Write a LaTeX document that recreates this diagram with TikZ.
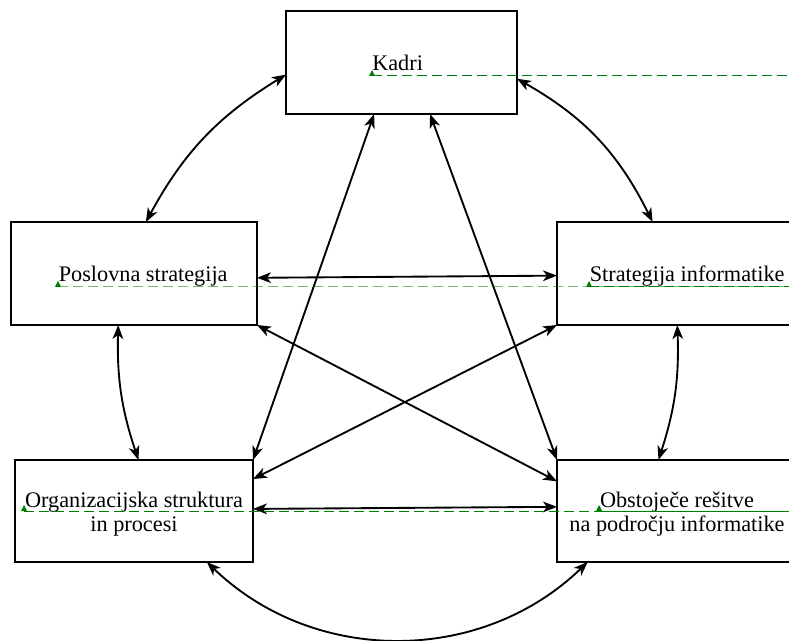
\documentclass[tikz,border=0pt]{standalone}
\usepackage{fontspec}
\setmainfont{Liberation Serif}
\usetikzlibrary{arrows.meta}
\definecolor{marca}{RGB}{0,128,0}
\begin{document}
\begin{tikzpicture}[x=0.75pt,y=-0.75pt,
    caixa/.style={draw, line width=1.4pt, inner sep=0pt, outer sep=0pt},
    texto/.style={inner sep=0pt, font=\fontsize{16.7}{18}\selectfont},
    seta/.style={line width=1.4pt, {Stealth[length=10.5pt,width=8pt,inset=3pt]}-{Stealth[length=10.5pt,width=8pt,inset=3pt]}},
    guia/.style={marca, line width=0.75pt, dash pattern=on 7.5pt off 3.75pt}]
        \useasboundingbox (0,0) rectangle (789,641);
        \clip (0,0) rectangle (789,641);

        % Caixas
        \node[caixa, minimum width=173.25pt, minimum height=77.25pt] (kadri) at (401.5,62.5) {};
        \node[caixa, minimum width=184.5pt, minimum height=77.25pt] (poslovna) at (134,273.5) {};
        \node[caixa, minimum width=184.5pt, minimum height=77.25pt] (strategija) at (680,273.5) {};
        \node[caixa, minimum width=178.5pt, minimum height=76.5pt] (organizacija) at (134,511) {};
        \node[caixa, minimum width=178.5pt, minimum height=76.5pt] (obstojece) at (676,511) {};

        \node[texto, anchor=base west] (tkadri) at (372,71) {Kadri};
        \node[texto, anchor=base west] (tposlovna) at (58.5,282) {Poslovna strategija};
        \node[texto, anchor=base west] (tstrategija) at (589.5,282) {Strategija informatike};
        \node[texto, align=center] (torganizacija) at (134,514) {Organizacijska struktura\\in procesi};
        \node[texto, align=center] (tobstojece) at (677,514) {Obstoječe rešitve\\na področju informatike};

        % Setas
        \draw[seta] (kadri.186.7) to[bend right=15] (poslovna.77.9);
        \draw[seta] (kadri.352.4) to[bend left=17] (strategija.118.5);
        \draw[seta] (poslovna.253.8) to[bend right=10] (organizacija.85.5);
        \draw[seta] (strategija.267.8) to[bend left=10] (obstojece.109.4);
        \draw[seta] (organizacija.325.4) to[bend right=44] (obstojece.210.4);
        \draw[seta] (kadri.242.8) -- (organizacija.north east);
        \draw[seta] (kadri.299.8) -- (obstojece.north west);
        \draw[seta] (poslovna.south east) -- (obstojece.166.3);
        \draw[seta] (strategija.south west) -- (organizacija.15.5);
        \draw[seta] (poslovna.358.8) -- (strategija.181.2);
        \draw[seta] (organizacija.1.4) -- (obstojece.178.6);

        % Linhas de base
        \coordinate (borda) at (789,0);
        \coordinate (mkadri) at (372,76);
        \coordinate (mposlovna) at (58,287);
        \coordinate (mstrategija) at (589,287);
        \coordinate (morganizacija) at (24,511);
        \coordinate (mobstojece) at (599,511);
        \draw[guia] (mkadri) -- (mkadri -| borda);
        \draw[guia, opacity=0.55] (mposlovna) -- (mposlovna -| borda);
        \draw[guia] (mstrategija) -- (mstrategija -| borda);
        \draw[guia] (morganizacija) -- (morganizacija -| borda);
        \draw[guia] (mobstojece) -- (mobstojece -| borda);
        \foreach \m in {mkadri,mposlovna,mstrategija,morganizacija,mobstojece}
            \fill[marca] (\m) ++(-3,0) -- ++(6,0) -- ++(-3,-6) -- cycle;
\end{tikzpicture}
\end{document}
